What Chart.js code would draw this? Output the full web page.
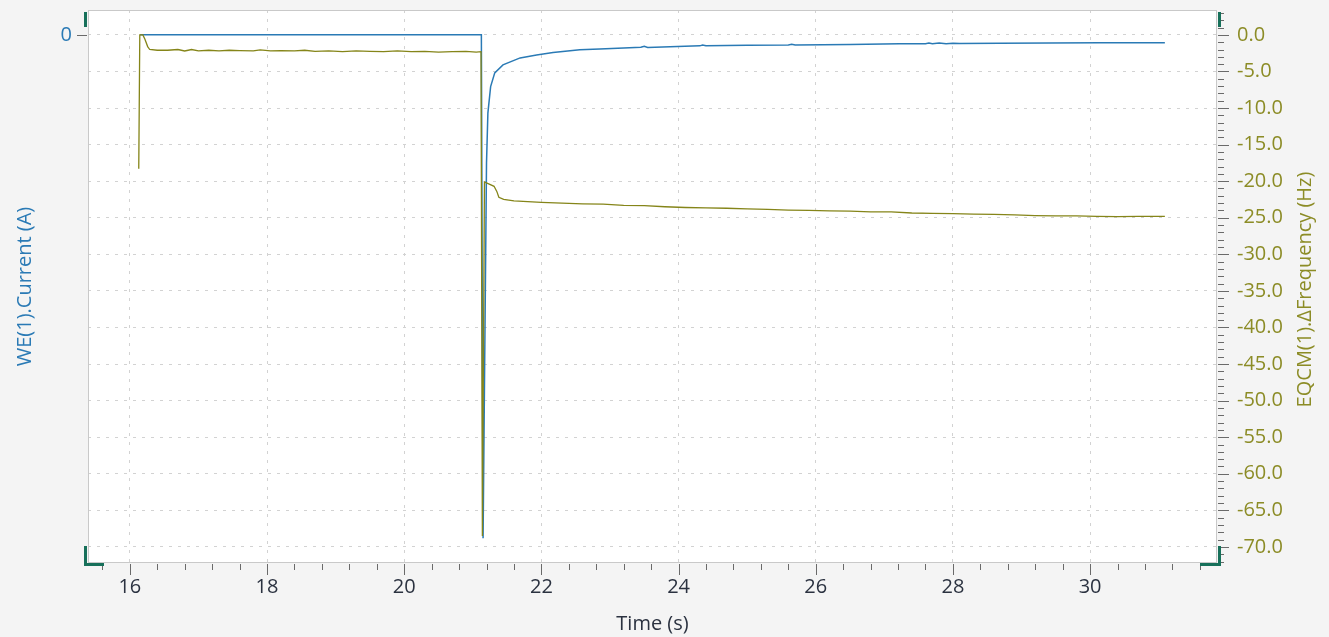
<!DOCTYPE html>
<html>
<head>
<meta charset="utf-8">
<title>EQCM frequency and current</title>
<script src="https://cdn.jsdelivr.net/npm/chart.js@4.4.1/dist/chart.umd.min.js"></script>
<style>
    html, body { margin: 0; padding: 0; background: #f4f4f4; }
    #wrap { width: 1329px; height: 637px; }
</style>
</head>
<body>
<div id="wrap"><canvas id="chart" width="1329" height="637"></canvas></div>
<script>
'use strict';

// ---- data ----
const freqTime = [
    16.13, 16.145, 16.19, 16.22, 16.26, 16.29, 16.4, 16.55, 16.7, 16.8, 16.9, 17.0,
    17.15, 17.3, 17.45, 17.6, 17.8, 17.9, 18.05, 18.2, 18.4, 18.55, 18.7, 18.9,
    19.1, 19.3, 19.5, 19.7, 19.9, 20.1, 20.3, 20.5, 20.7, 20.9, 21.05, 21.12,
    21.14, 21.17, 21.24, 21.31, 21.35, 21.38, 21.45, 21.6, 21.8, 22.0, 22.3, 22.6,
    22.9, 23.2, 23.5, 23.8, 24.1, 24.4, 24.7, 25.0, 25.3, 25.6, 25.9, 26.2,
    26.5, 26.8, 27.1, 27.4, 27.7, 28.0, 28.3, 28.6, 28.9, 29.2, 29.5, 29.8,
    30.1, 30.4, 30.7, 31.09
];
const freqValue = [
    -18.3, 0.0, 0.0, -0.6, -1.6, -2.0, -2.1, -2.1, -2.0, -2.2, -2.0, -2.2,
    -2.1, -2.2, -2.1, -2.15, -2.2, -2.05, -2.2, -2.15, -2.2, -2.1, -2.25, -2.2,
    -2.3, -2.2, -2.25, -2.3, -2.2, -2.3, -2.25, -2.35, -2.3, -2.25, -2.35, -2.3,
    -68.5, -20.1, -20.4, -20.7, -21.4, -22.2, -22.5, -22.7, -22.8, -22.9, -23.0, -23.1,
    -23.15, -23.3, -23.35, -23.5, -23.6, -23.65, -23.7, -23.8, -23.85, -23.95, -24.0, -24.05,
    -24.1, -24.2, -24.2, -24.35, -24.4, -24.45, -24.5, -24.55, -24.6, -24.7, -24.75, -24.75,
    -24.8, -24.85, -24.8, -24.8
];

const currentTime = [
    16.15, 21.125, 21.15, 21.20, 21.22, 21.26, 21.32, 21.44, 21.69, 21.93, 22.17, 22.56,
    22.85, 23.2, 23.45, 23.5, 23.55, 24.31, 24.35, 24.4, 25.0, 25.6, 25.65, 25.7,
    26.5, 27.22, 27.6, 27.65, 27.7, 27.8, 27.9, 28.0, 28.1, 28.68, 29.4, 30.14, 31.09
];
const currentValue = [
    0, 0, -6.88e-4, -1.75e-4, -1.07e-4, -7.07e-5, -5.2e-5, -4.1e-5, -3.15e-5, -2.74e-5, -2.42e-5, -2.05e-5,
    -1.92e-5, -1.8e-5, -1.7e-5, -1.55e-5, -1.72e-5, -1.5e-5, -1.38e-5, -1.5e-5, -1.43e-5, -1.37e-5, -1.27e-5, -1.37e-5,
    -1.3e-5, -1.23e-5, -1.2e-5, -1.12e-5, -1.22e-5, -1.12e-5, -1.2e-5, -1.14e-5, -1.18e-5, -1.16e-5, -1.12e-5, -1.09e-5, -1.09e-5
];

// axis ranges and tick labels
const timeRange = [15.39, 31.85];
const timeTicks = [16, 18, 20, 22, 24, 26, 28, 30];
const timeMinorStep = 0.4;
const freqRange = [-72.2, 3.4];
const freqTicks = [0, -5, -10, -15, -20, -25, -30, -35, -40, -45, -50, -55, -60, -65, -70];
const freqMinorStep = 1;
const currentRange = [-7.22e-4, 3.4e-5];
const currentTicks = [0];

const BLUE = '#2a7ab5';
const OLIVE = '#858519';
const OLIVE_TEXT = '#8c8c26';
const TEAL = '#17705a';
const FONT = '"Open Sans", "Noto Sans", sans-serif';
const FONT_SIZE = 20;

function toPoints(xs, ys) {
    return xs.map((x, i) => ({ x: x, y: ys[i] }));
}

// fixed axis sizes, no extra label padding
function fixWidth(w) {
    return s => { s.width = w; s.paddingTop = 0; s.paddingBottom = 0; };
}

/**
 * Frame, tick marks, corner brackets and the right-hand title
 */
const framePlugin = {
    id: 'frame',
    beforeDraw(chart) {
        const { ctx, chartArea: a } = chart;
        ctx.save();
        ctx.fillStyle = '#ffffff';
        ctx.fillRect(a.left, a.top, a.right - a.left, a.bottom - a.top);
        ctx.restore();
    },
    afterDraw(chart) {
        const { ctx, chartArea: a } = chart;
        const sx = chart.scales.x;
        const sf = chart.scales.yFreq;
        const sc = chart.scales.yCur;

        ctx.save();
        // plot border
        ctx.strokeStyle = '#c9c9c9';
        ctx.lineWidth = 1;
        ctx.strokeRect(a.left + 0.5, a.top + 0.5, a.right - a.left - 1, a.bottom - a.top - 1);

        // tick marks
        ctx.strokeStyle = '#6a6a6a';
        ctx.beginPath();
        for (let t = timeTicks[0] - 1.6; t <= timeRange[1]; t += timeMinorStep) {
            const v = Math.round(t * 10) / 10;
            if (v < timeRange[0]) continue;
            const px = Math.round(sx.getPixelForValue(v)) + 0.5;
            const major = timeTicks.includes(v);
            ctx.moveTo(px, a.bottom + 1);
            ctx.lineTo(px, a.bottom + (major ? 12 : 7));
        }
        for (let f = 3; f >= freqRange[0]; f -= freqMinorStep) {
            const py = Math.round(sf.getPixelForValue(f)) + 0.5;
            const major = freqTicks.includes(f);
            ctx.moveTo(a.right + 1, py);
            ctx.lineTo(a.right + (major ? 12 : 7), py);
        }
        currentTicks.forEach(c => {
            const py = Math.round(sc.getPixelForValue(c)) + 0.5;
            ctx.moveTo(a.left - 11, py);
            ctx.lineTo(a.left - 1, py);
        });
        ctx.stroke();

        // corner brackets
        ctx.fillStyle = TEAL;
        ctx.fillRect(a.left - 4, a.top + 2, 3, 15);
        ctx.fillRect(a.left - 4, a.bottom - 17, 3, 20);
        ctx.fillRect(a.left - 4, a.bottom, 20, 3);
        ctx.fillRect(a.right + 1, a.top + 2, 3, 15);
        ctx.fillRect(a.right + 1, a.bottom - 17, 3, 20);
        ctx.fillRect(a.right - 17, a.bottom, 21, 3);

        // right axis title, reading bottom to top
        ctx.fillStyle = OLIVE_TEXT;
        ctx.font = FONT_SIZE + 'px ' + FONT;
        ctx.textAlign = 'center';
        ctx.textBaseline = 'middle';
        ctx.translate(1305, (a.top + a.bottom) / 2 + 3);
        ctx.rotate(-Math.PI / 2);
        ctx.fillText('EQCM(1).ΔFrequency (Hz)', 0, 0);
        ctx.restore();
    }
};

const dashGrid = { display: true, color: '#d2d2d2', lineWidth: 1, drawTicks: false };

new Chart(document.getElementById('chart').getContext('2d'), {
    type: 'line',
    data: {
        datasets: [{
            label: 'EQCM(1).ΔFrequency',
            data: toPoints(freqTime, freqValue),
            yAxisID: 'yFreq',
            borderColor: OLIVE,
            borderWidth: 1.3,
            pointRadius: 0,
            tension: 0
        }, {
            label: 'WE(1).Current',
            data: toPoints(currentTime, currentValue),
            yAxisID: 'yCur',
            borderColor: BLUE,
            borderWidth: 1.5,
            pointRadius: 0,
            tension: 0
        }]
    },
    options: {
        responsive: false,
        animation: false,
        layout: { padding: { top: 10, left: 0, right: 0, bottom: 0 } },
        plugins: {
            legend: { display: false },
            tooltip: { enabled: false }
        },
        scales: {
            x: {
                type: 'linear',
                min: timeRange[0],
                max: timeRange[1],
                afterBuildTicks: s => { s.ticks = timeTicks.map(v => ({ value: v })); },
                afterFit: s => { s.height = 74; s.paddingLeft = 0; s.paddingRight = 0; },
                grid: dashGrid,
                border: { display: false, dash: [3, 6] },
                ticks: {
                    padding: 12,
                    color: '#2b3240',
                    font: { family: FONT, size: FONT_SIZE },
                    callback: v => String(v)
                },
                title: {
                    display: true,
                    text: 'Time (s)',
                    color: '#2b3240',
                    font: { family: FONT, size: FONT_SIZE },
                    padding: { top: 0, bottom: 1 }
                }
            },
            yCur: {
                type: 'linear',
                position: 'left',
                min: currentRange[0],
                max: currentRange[1],
                afterBuildTicks: s => { s.ticks = currentTicks.map(v => ({ value: v })); },
                afterFit: fixWidth(88),
                grid: { display: false, drawTicks: false },
                border: { display: false },
                ticks: {
                    padding: 16,
                    color: BLUE,
                    font: { family: FONT, size: FONT_SIZE },
                    callback: v => String(v)
                },
                title: {
                    display: true,
                    text: 'WE(1).Current (A)',
                    color: BLUE,
                    font: { family: FONT, size: FONT_SIZE },
                    padding: { top: 13, bottom: 0 }
                }
            },
            yFreq: {
                type: 'linear',
                position: 'right',
                min: freqRange[0],
                max: freqRange[1],
                afterBuildTicks: s => { s.ticks = freqTicks.map(v => ({ value: v })); },
                afterFit: fixWidth(112),
                grid: dashGrid,
                border: { display: false, dash: [3, 6] },
                ticks: {
                    padding: 20,
                    color: OLIVE_TEXT,
                    font: { family: FONT, size: FONT_SIZE },
                    callback: v => v.toFixed(1)
                }
            }
        }
    },
    plugins: [framePlugin]
});
</script>
</body>
</html>
